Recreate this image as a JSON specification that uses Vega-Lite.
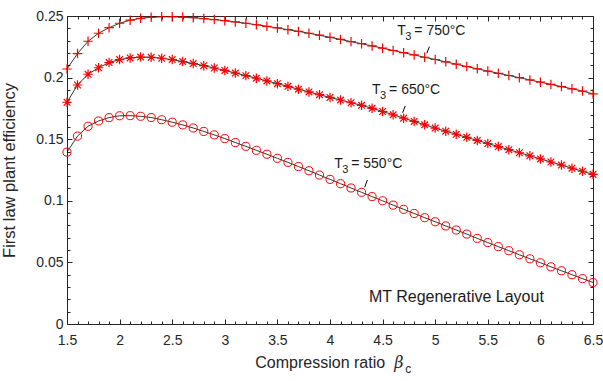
{
  "$schema": "https://vega.github.io/schema/vega-lite/v6.json",
  "width": 526,
  "height": 308,
  "autosize": {"type": "none"},
  "padding": {"left": 67, "top": 16, "right": 10, "bottom": 57},
  "background": "white",
  "config": {
    "font": "Liberation Sans",
    "view": {"stroke": null},
    "axis": {"grid": false, "domainColor": "#262626", "tickColor": "#262626", "labelColor": "#262626", "titleColor": "#262626", "labelFont": "Liberation Sans", "labelFontSize": 14, "titleFont": "Liberation Sans", "titleFontSize": 16.5, "titleFontWeight": "normal", "tickWidth": 1, "domainWidth": 1}
  },
  "datasets": {
    "eff": [
      {"b":1.5,"e":0.1395,"T":"550"},{"b":1.6,"e":0.1525,"T":"550"},{"b":1.7,"e":0.1605,"T":"550"},{"b":1.8,"e":0.1648,"T":"550"},{"b":1.9,"e":0.1675,"T":"550"},{"b":2.0,"e":0.1690,"T":"550"},{"b":2.1,"e":0.1691,"T":"550"},{"b":2.2,"e":0.1686,"T":"550"},{"b":2.3,"e":0.1676,"T":"550"},{"b":2.4,"e":0.1658,"T":"550"},
      {"b":2.5,"e":0.1638,"T":"550"},{"b":2.6,"e":0.1616,"T":"550"},{"b":2.7,"e":0.1591,"T":"550"},{"b":2.8,"e":0.1563,"T":"550"},{"b":2.9,"e":0.1535,"T":"550"},{"b":3.0,"e":0.1505,"T":"550"},{"b":3.1,"e":0.1473,"T":"550"},{"b":3.2,"e":0.1442,"T":"550"},{"b":3.3,"e":0.1410,"T":"550"},{"b":3.4,"e":0.1378,"T":"550"},
      {"b":3.5,"e":0.1345,"T":"550"},{"b":3.6,"e":0.1312,"T":"550"},{"b":3.7,"e":0.1278,"T":"550"},{"b":3.8,"e":0.1244,"T":"550"},{"b":3.9,"e":0.1209,"T":"550"},{"b":4.0,"e":0.1174,"T":"550"},{"b":4.1,"e":0.1139,"T":"550"},{"b":4.2,"e":0.1104,"T":"550"},{"b":4.3,"e":0.1069,"T":"550"},{"b":4.4,"e":0.1034,"T":"550"},
      {"b":4.5,"e":0.1000,"T":"550"},{"b":4.6,"e":0.0965,"T":"550"},{"b":4.7,"e":0.0931,"T":"550"},{"b":4.8,"e":0.0897,"T":"550"},{"b":4.9,"e":0.0863,"T":"550"},{"b":5.0,"e":0.0830,"T":"550"},{"b":5.1,"e":0.0796,"T":"550"},{"b":5.2,"e":0.0763,"T":"550"},{"b":5.3,"e":0.0730,"T":"550"},{"b":5.4,"e":0.0695,"T":"550"},
      {"b":5.5,"e":0.0661,"T":"550"},{"b":5.6,"e":0.0628,"T":"550"},{"b":5.7,"e":0.0595,"T":"550"},{"b":5.8,"e":0.0562,"T":"550"},{"b":5.9,"e":0.0529,"T":"550"},{"b":6.0,"e":0.0497,"T":"550"},{"b":6.1,"e":0.0464,"T":"550"},{"b":6.2,"e":0.0432,"T":"550"},{"b":6.3,"e":0.0400,"T":"550"},{"b":6.4,"e":0.0368,"T":"550"},{"b":6.5,"e":0.0337,"T":"550"},
      {"b":1.5,"e":0.1800,"T":"650"},{"b":1.6,"e":0.1940,"T":"650"},{"b":1.7,"e":0.2027,"T":"650"},{"b":1.8,"e":0.2080,"T":"650"},{"b":1.9,"e":0.2122,"T":"650"},{"b":2.0,"e":0.2146,"T":"650"},{"b":2.1,"e":0.2160,"T":"650"},{"b":2.2,"e":0.2167,"T":"650"},{"b":2.3,"e":0.2165,"T":"650"},{"b":2.4,"e":0.2157,"T":"650"},
      {"b":2.5,"e":0.2146,"T":"650"},{"b":2.6,"e":0.2130,"T":"650"},{"b":2.7,"e":0.2114,"T":"650"},{"b":2.8,"e":0.2097,"T":"650"},{"b":2.9,"e":0.2078,"T":"650"},{"b":3.0,"e":0.2058,"T":"650"},{"b":3.1,"e":0.2037,"T":"650"},{"b":3.2,"e":0.2016,"T":"650"},{"b":3.3,"e":0.1995,"T":"650"},{"b":3.4,"e":0.1973,"T":"650"},
      {"b":3.5,"e":0.1951,"T":"650"},{"b":3.6,"e":0.1929,"T":"650"},{"b":3.7,"e":0.1906,"T":"650"},{"b":3.8,"e":0.1884,"T":"650"},{"b":3.9,"e":0.1861,"T":"650"},{"b":4.0,"e":0.1839,"T":"650"},{"b":4.1,"e":0.1818,"T":"650"},{"b":4.2,"e":0.1796,"T":"650"},{"b":4.3,"e":0.1775,"T":"650"},{"b":4.4,"e":0.1751,"T":"650"},
      {"b":4.5,"e":0.1725,"T":"650"},{"b":4.6,"e":0.1698,"T":"650"},{"b":4.7,"e":0.1671,"T":"650"},{"b":4.8,"e":0.1644,"T":"650"},{"b":4.9,"e":0.1617,"T":"650"},{"b":5.0,"e":0.1590,"T":"650"},{"b":5.1,"e":0.1565,"T":"650"},{"b":5.2,"e":0.1540,"T":"650"},{"b":5.3,"e":0.1515,"T":"650"},{"b":5.4,"e":0.1490,"T":"650"},
      {"b":5.5,"e":0.1465,"T":"650"},{"b":5.6,"e":0.1440,"T":"650"},{"b":5.7,"e":0.1415,"T":"650"},{"b":5.8,"e":0.1390,"T":"650"},{"b":5.9,"e":0.1365,"T":"650"},{"b":6.0,"e":0.1340,"T":"650"},{"b":6.1,"e":0.1315,"T":"650"},{"b":6.2,"e":0.1290,"T":"650"},{"b":6.3,"e":0.1265,"T":"650"},{"b":6.4,"e":0.1240,"T":"650"},{"b":6.5,"e":0.1215,"T":"650"},
      {"b":1.5,"e":0.2070,"T":"750"},{"b":1.6,"e":0.2195,"T":"750"},{"b":1.7,"e":0.2295,"T":"750"},{"b":1.8,"e":0.2360,"T":"750"},{"b":1.9,"e":0.2405,"T":"750"},{"b":2.0,"e":0.2441,"T":"750"},{"b":2.1,"e":0.2466,"T":"750"},{"b":2.2,"e":0.2481,"T":"750"},{"b":2.3,"e":0.2490,"T":"750"},{"b":2.4,"e":0.2494,"T":"750"},
      {"b":2.5,"e":0.2494,"T":"750"},{"b":2.6,"e":0.2491,"T":"750"},{"b":2.7,"e":0.2486,"T":"750"},{"b":2.8,"e":0.2479,"T":"750"},{"b":2.9,"e":0.2471,"T":"750"},{"b":3.0,"e":0.2462,"T":"750"},{"b":3.1,"e":0.2452,"T":"750"},{"b":3.2,"e":0.2441,"T":"750"},{"b":3.3,"e":0.2429,"T":"750"},{"b":3.4,"e":0.2416,"T":"750"},
      {"b":3.5,"e":0.2403,"T":"750"},{"b":3.6,"e":0.2389,"T":"750"},{"b":3.7,"e":0.2375,"T":"750"},{"b":3.8,"e":0.2360,"T":"750"},{"b":3.9,"e":0.2344,"T":"750"},{"b":4.0,"e":0.2327,"T":"750"},{"b":4.1,"e":0.2310,"T":"750"},{"b":4.2,"e":0.2292,"T":"750"},{"b":4.3,"e":0.2275,"T":"750"},{"b":4.4,"e":0.2257,"T":"750"},
      {"b":4.5,"e":0.2239,"T":"750"},{"b":4.6,"e":0.2220,"T":"750"},{"b":4.7,"e":0.2202,"T":"750"},{"b":4.8,"e":0.2184,"T":"750"},{"b":4.9,"e":0.2165,"T":"750"},{"b":5.0,"e":0.2147,"T":"750"},{"b":5.1,"e":0.2128,"T":"750"},{"b":5.2,"e":0.2109,"T":"750"},{"b":5.3,"e":0.2090,"T":"750"},{"b":5.4,"e":0.2071,"T":"750"},
      {"b":5.5,"e":0.2053,"T":"750"},{"b":5.6,"e":0.2035,"T":"750"},{"b":5.7,"e":0.2017,"T":"750"},{"b":5.8,"e":0.1999,"T":"750"},{"b":5.9,"e":0.1981,"T":"750"},{"b":6.0,"e":0.1963,"T":"750"},{"b":6.1,"e":0.1945,"T":"750"},{"b":6.2,"e":0.1927,"T":"750"},{"b":6.3,"e":0.1909,"T":"750"},{"b":6.4,"e":0.1891,"T":"750"},{"b":6.5,"e":0.1868,"T":"750"}
    ],
    "notes": [
      {"x":4.64,"y":0.2346,"lab":"= 750°C","sx1":4.92,"sy1":0.2197,"sx2":4.945,"sy2":0.2251},
      {"x":4.40,"y":0.1864,"lab":"= 650°C","sx1":4.69,"sy1":0.1715,"sx2":4.715,"sy2":0.1770},
      {"x":4.04,"y":0.1264,"lab":"= 550°C","sx1":4.33,"sy1":0.1110,"sx2":4.355,"sy2":0.1169}
    ],
    "one": [{}]
  },
  "resolve": {"axis": {"x": "independent", "y": "independent"}},
  "layer": [
    {
      "data": {"name": "eff"},
      "mark": {"type": "line", "color": "black", "strokeWidth": 0.8},
      "encoding": {
        "x": {"field": "b", "type": "quantitative", "scale": {"domain": [1.5, 6.5], "nice": false, "zero": false},
              "axis": {"orient": "bottom", "values": [1.5,2,2.5,3,3.5,4,4.5,5,5.5,6,6.5], "format": "~g", "tickSize": -5, "labelPadding": 14, "title": null, "domain": true, "labelFlush": false, "labelOverlap": false}},
        "y": {"field": "e", "type": "quantitative", "scale": {"domain": [0, 0.25], "nice": false},
              "axis": {"orient": "left", "values": [0,0.05,0.1,0.15,0.2,0.25], "format": "~g", "tickSize": -5, "labelPadding": 9, "title": "First law plant efficiency", "titleX": -50, "titleY": 154, "titleAngle": -90, "titleAlign": "center", "titleBaseline": "bottom", "domain": true, "labelFlush": false, "labelOverlap": false}},
        "detail": {"field": "T"}
      }
    },
    {
      "data": {"name": "eff"},
      "transform": [{"filter": "datum.T == '550'"}],
      "mark": {"type": "point", "shape": "circle", "filled": false, "stroke": "#ff0000", "strokeWidth": 1, "size": 66, "opacity": 1},
      "encoding": {
        "x": {"field": "b", "type": "quantitative", "scale": {"domain": [1.5, 6.5], "nice": false, "zero": false},
              "axis": {"orient": "bottom", "values": [1.6,1.7,1.8,1.9,2.1,2.2,2.3,2.4,2.6,2.7,2.8,2.9,3.1,3.2,3.3,3.4,3.6,3.7,3.8,3.9,4.1,4.2,4.3,4.4,4.6,4.7,4.8,4.9,5.1,5.2,5.3,5.4,5.6,5.7,5.8,5.9,6.1,6.2,6.3,6.4], "tickSize": -3, "labels": false, "title": null, "domain": false}},
        "y": {"field": "e", "type": "quantitative", "scale": {"domain": [0, 0.25], "nice": false},
              "axis": {"orient": "left", "values": [0.01,0.02,0.03,0.04,0.06,0.07,0.08,0.09,0.11,0.12,0.13,0.14,0.16,0.17,0.18,0.19,0.21,0.22,0.23,0.24], "tickSize": -3, "labels": false, "title": null, "domain": false}}
      }
    },
    {
      "data": {"name": "eff"},
      "transform": [{"filter": "datum.T == '650'"}],
      "mark": {"type": "point", "shape": "M0,-1L0,1M-1,0L1,0M-0.7,-0.7L0.7,0.7M-0.7,0.7L0.7,-0.7", "filled": false, "stroke": "#ff0000", "strokeWidth": 1.2, "size": 90, "opacity": 1},
      "encoding": {
        "x": {"field": "b", "type": "quantitative", "scale": {"domain": [1.5, 6.5], "nice": false, "zero": false},
              "axis": {"orient": "top", "values": [1.5,2,2.5,3,3.5,4,4.5,5,5.5,6,6.5], "tickSize": -5, "labels": false, "title": null, "domain": true}},
        "y": {"field": "e", "type": "quantitative", "scale": {"domain": [0, 0.25], "nice": false},
              "axis": {"orient": "right", "values": [0,0.05,0.1,0.15,0.2,0.25], "tickSize": -5, "labels": false, "title": null, "domain": true}}
      }
    },
    {
      "data": {"name": "eff"},
      "transform": [{"filter": "datum.T == '750'"}],
      "mark": {"type": "point", "shape": "M0,-1L0,1M-1,0L1,0", "filled": false, "stroke": "#ff0000", "strokeWidth": 1.2, "size": 90, "opacity": 1},
      "encoding": {
        "x": {"field": "b", "type": "quantitative", "scale": {"domain": [1.5, 6.5], "nice": false, "zero": false},
              "axis": {"orient": "top", "values": [1.6,1.7,1.8,1.9,2.1,2.2,2.3,2.4,2.6,2.7,2.8,2.9,3.1,3.2,3.3,3.4,3.6,3.7,3.8,3.9,4.1,4.2,4.3,4.4,4.6,4.7,4.8,4.9,5.1,5.2,5.3,5.4,5.6,5.7,5.8,5.9,6.1,6.2,6.3,6.4], "tickSize": -3, "labels": false, "title": null, "domain": false}},
        "y": {"field": "e", "type": "quantitative", "scale": {"domain": [0, 0.25], "nice": false},
              "axis": {"orient": "right", "values": [0.01,0.02,0.03,0.04,0.06,0.07,0.08,0.09,0.11,0.12,0.13,0.14,0.16,0.17,0.18,0.19,0.21,0.22,0.23,0.24], "tickSize": -3, "labels": false, "title": null, "domain": false}}
      }
    },
    {
      "data": {"name": "notes"},
      "mark": {"type": "text", "text": "T", "align": "left", "baseline": "alphabetic", "fontSize": 14, "color": "#1a1a1a"},
      "encoding": {
        "x": {"field": "x", "type": "quantitative", "scale": {"domain": [1.5, 6.5], "nice": false, "zero": false}, "axis": null},
        "y": {"field": "y", "type": "quantitative", "scale": {"domain": [0, 0.25], "nice": false}, "axis": null}
      }
    },
    {
      "data": {"name": "notes"},
      "mark": {"type": "text", "text": "3", "align": "left", "baseline": "alphabetic", "fontSize": 11, "dx": 8, "dy": 5, "color": "#1a1a1a"},
      "encoding": {
        "x": {"field": "x", "type": "quantitative", "scale": {"domain": [1.5, 6.5], "nice": false, "zero": false}, "axis": null},
        "y": {"field": "y", "type": "quantitative", "scale": {"domain": [0, 0.25], "nice": false}, "axis": null}
      }
    },
    {
      "data": {"name": "notes"},
      "mark": {"type": "text", "align": "left", "baseline": "alphabetic", "fontSize": 14, "dx": 17, "color": "#1a1a1a"},
      "encoding": {
        "x": {"field": "x", "type": "quantitative", "scale": {"domain": [1.5, 6.5], "nice": false, "zero": false}, "axis": null},
        "y": {"field": "y", "type": "quantitative", "scale": {"domain": [0, 0.25], "nice": false}, "axis": null},
        "text": {"field": "lab"}
      }
    },
    {
      "data": {"name": "notes"},
      "mark": {"type": "rule", "color": "black", "strokeWidth": 1},
      "encoding": {
        "x": {"field": "sx1", "type": "quantitative", "scale": {"domain": [1.5, 6.5], "nice": false, "zero": false}, "axis": null},
        "y": {"field": "sy1", "type": "quantitative", "scale": {"domain": [0, 0.25], "nice": false}, "axis": null},
        "x2": {"field": "sx2"},
        "y2": {"field": "sy2"}
      }
    },
    {
      "data": {"name": "one"},
      "mark": {"type": "text", "text": "MT Regenerative Layout", "align": "left", "baseline": "alphabetic", "fontSize": 16, "color": "#1a1a1a"},
      "encoding": {
        "x": {"datum": 4.37, "type": "quantitative", "scale": {"domain": [1.5, 6.5], "nice": false, "zero": false}, "axis": null},
        "y": {"datum": 0.0175, "type": "quantitative", "scale": {"domain": [0, 0.25], "nice": false}, "axis": null}
      }
    },
    {
      "data": {"name": "one"},
      "mark": {"type": "text", "text": "Compression ratio", "align": "left", "baseline": "alphabetic", "fontSize": 16, "color": "#262626"},
      "encoding": {
        "x": {"datum": 3.29, "type": "quantitative", "scale": {"domain": [1.5, 6.5], "nice": false, "zero": false}, "axis": null},
        "y": {"datum": -0.0357, "type": "quantitative", "scale": {"domain": [0, 0.25], "nice": false}, "axis": null}
      }
    },
    {
      "data": {"name": "one"},
      "mark": {"type": "text", "text": "β", "align": "left", "baseline": "alphabetic", "fontSize": 16, "fontStyle": "italic", "font": "DejaVu Serif", "color": "#262626"},
      "encoding": {
        "x": {"datum": 4.61, "type": "quantitative", "scale": {"domain": [1.5, 6.5], "nice": false, "zero": false}, "axis": null},
        "y": {"datum": -0.0357, "type": "quantitative", "scale": {"domain": [0, 0.25], "nice": false}, "axis": null}
      }
    },
    {
      "data": {"name": "one"},
      "mark": {"type": "text", "text": "c", "align": "left", "baseline": "alphabetic", "fontSize": 12, "color": "#262626"},
      "encoding": {
        "x": {"datum": 4.715, "type": "quantitative", "scale": {"domain": [1.5, 6.5], "nice": false, "zero": false}, "axis": null},
        "y": {"datum": -0.0398, "type": "quantitative", "scale": {"domain": [0, 0.25], "nice": false}, "axis": null}
      }
    }
  ]
}
